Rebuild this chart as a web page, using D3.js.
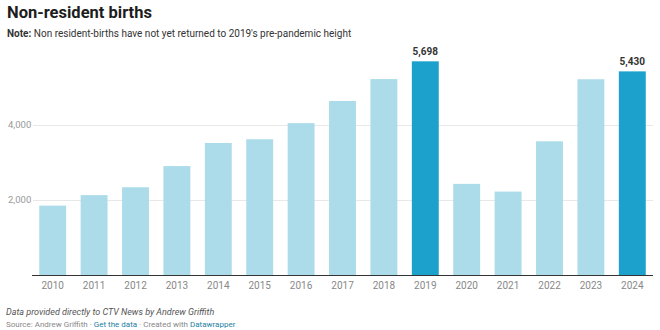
<!DOCTYPE html>
<html><head><meta charset="utf-8">
<script src="https://cdn.jsdelivr.net/npm/d3@7"></script>
<style>
html,body{margin:0;padding:0;background:#fff;}
body{width:660px;height:330px;overflow:hidden;font-family:Roboto,"Noto Sans",sans-serif;}
</style></head>
<body><svg id="c" width="660" height="330"></svg>
<script>
const years = ["2010","2011","2012","2013","2014","2015","2016","2017","2018","2019","2020","2021","2022","2023","2024"];
const births = [1850,2130,2340,2905,3520,3620,4050,4640,5225,5698,2430,2225,3565,5220,5430];
const highlighted = ["2019","2024"];
const yTicks = [2000,4000];

const svg = d3.select("#c");
const x = d3.scaleBand().domain(years).range([32,653]).paddingInner(0.35).paddingOuter(0.175);
const y = d3.scaleLinear().domain([0,6000]).range([275,50]);

// title & note
svg.append("text").attr("x",7).attr("y",18).attr("font-size",16.5).attr("font-weight",700)
  .attr("fill","#1d1d1d").text("Non-resident births");
const note = svg.append("text").attr("x",7).attr("y",37).attr("font-size",10).attr("fill","#333");
note.append("tspan").attr("font-weight",700).text("Note:");
note.append("tspan").text(" Non resident-births have not yet returned to 2019's pre-pandemic height");

// gridlines
const g = svg.append("g");
g.selectAll("line.grid").data(yTicks).join("line")
  .attr("x1",33).attr("x2",653).attr("y1",d=>y(d)+0.5).attr("y2",d=>y(d)+0.5)
  .attr("stroke","#e8e8e8").attr("stroke-width",1);
g.selectAll("text.yl").data(yTicks).join("text")
  .attr("x",8).attr("y",d=>y(d)).attr("dy","0.35em").attr("font-size",9.5)
  .attr("fill","#999").text(d=>d3.format(",")(d));

// bars
g.selectAll("rect").data(years).join("rect")
  .attr("x",d=>x(d)).attr("width",x.bandwidth())
  .attr("y",(d,i)=>y(births[i])).attr("height",(d,i)=>y(0)-y(births[i]))
  .attr("fill",d=>highlighted.includes(d)?"#1ba1cc":"#acdcea");

// value labels
g.selectAll("text.v").data(years.filter(d=>highlighted.includes(d))).join("text")
  .attr("x",d=>x(d)+x.bandwidth()/2).attr("y",d=>y(births[years.indexOf(d)])-6)
  .attr("text-anchor","middle").attr("font-size",10).attr("font-weight",700).attr("fill","#333")
  .text(d=>d3.format(",")(births[years.indexOf(d)]));

// baseline axis
const ax = svg.append("g").attr("transform",`translate(0,${y(0)})`)
  .call(d3.axisBottom(x).tickSize(0).tickPadding(7));
ax.select(".domain").attr("stroke","#333").attr("d","M32,0.5H653");
ax.selectAll("text").attr("font-size",10).attr("fill","#888").attr("font-family","Roboto,sans-serif");

// footer
svg.append("text").attr("x",6).attr("y",315).attr("font-size",9).attr("font-style","italic")
  .attr("fill","#555").text("Data provided directly to CTV News by Andrew Griffith");
const src = svg.append("text").attr("x",6).attr("y",327).attr("font-size",8).attr("fill","#888");
src.append("tspan").text("Source: Andrew Griffith · ");
src.append("tspan").attr("fill","#1d81a2").text("Get the data");
src.append("tspan").text(" · Created with ");
src.append("tspan").attr("fill","#1d81a2").text("Datawrapper");
</script></body></html>
